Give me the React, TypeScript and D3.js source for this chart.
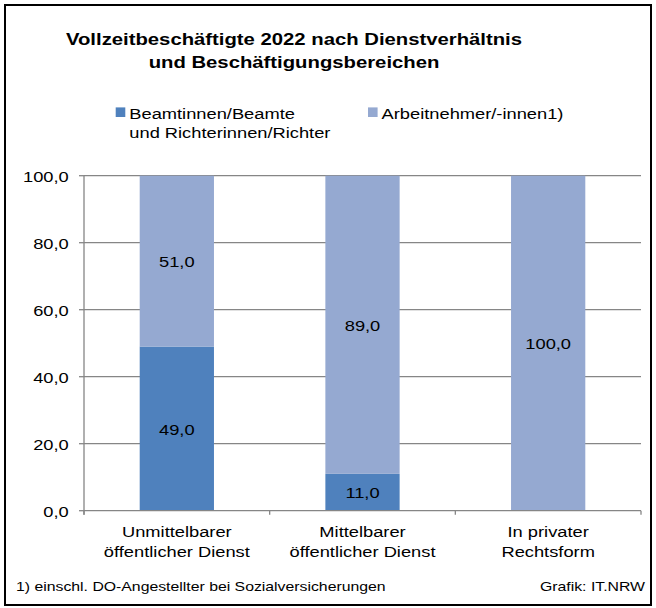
import React from 'react';
import * as d3 from 'd3';

// chart data
const categories = [
  ['Unmittelbarer', 'öffentlicher Dienst'],
  ['Mittelbarer', 'öffentlicher Dienst'],
  ['In privater', 'Rechtsform'],
];
const beamte = [49.0, 11.0, 0.0];
const arbeitnehmer = [51.0, 89.0, 100.0];
const yTicks = [0, 20, 40, 60, 80, 100];
const seriesNames = [['Beamtinnen/Beamte', 'und Richterinnen/Richter'], ['Arbeitnehmer/-innen1)']];
const titleLines = ['Vollzeitbeschäftigte 2022 nach Dienstverhältnis', 'und Beschäftigungsbereichen'];
const footnote = '1) einschl. DO-Angestellter bei Sozialversicherungen';
const source = 'Grafik: IT.NRW';

const W = 656;
const H = 608;
const SX = 1.18; // text in the reference is stretched horizontally
const FONT = 'Liberation Sans, Arial, sans-serif';
const colors = ['#4F81BD', '#95A9D1'];
const gridColor = '#868686';

const fmt = (v: number) => v.toFixed(1).replace('.', ',');

function T({ x, y, size = 15.5, anchor = 'middle', bold = false, children }: any) {
  return (
    <text
      transform={`translate(${x},${y}) scale(${SX},1)`}
      textAnchor={anchor}
      fontSize={size}
      fontWeight={bold ? 'bold' : 'normal'}
      fontFamily={FONT}
      fill="#000"
    >
      {children}
    </text>
  );
}

export default function App() {
  const plot = { left: 84, right: 641, top: 175.7, bottom: 510.7 };

  const x = d3
    .scaleBand<number>()
    .domain(categories.map((_, i) => i))
    .range([plot.left, plot.right])
    .paddingInner(0.6)
    .paddingOuter(0.3);
  const y = d3.scaleLinear().domain([0, 100]).range([plot.bottom, plot.top]);

  const rows = categories.map((_, i) => ({ i, beamte: beamte[i], arbeitnehmer: arbeitnehmer[i] }));
  const stack = d3.stack<any>().keys(['beamte', 'arbeitnehmer'])(rows);

  const step = (plot.right - plot.left) / categories.length;
  const bounds = d3.range(categories.length + 1).map(k => plot.left + k * step);

  return (
    <svg width={W} height={H} style={{ position: 'absolute', left: 0, top: 0, background: '#fff' }}>
      <rect x={5} y={5} width={646} height={600} fill="#fff" stroke="#000" strokeWidth={2} />

      {titleLines.map((t, i) => (
        <T key={i} x={294} y={44.5 + i * 23} size={17.2} bold>
          {t}
        </T>
      ))}

      {/* legend */}
      <rect x={115.7} y={107.4} width={9.6} height={9.6} fill={colors[0]} />
      {seriesNames[0].map((t, i) => (
        <T key={i} x={129.3} y={119.3 + i * 18.4} anchor="start">
          {t}
        </T>
      ))}
      <rect x={368} y={107.4} width={9.6} height={9.6} fill={colors[1]} />
      <T x={381.6} y={119.3} anchor="start">
        {seriesNames[1][0]}
      </T>

      {/* grid */}
      {yTicks.filter(v => v > 0).map(v => (
        <line key={v} x1={plot.left} x2={plot.right} y1={y(v)} y2={y(v)} stroke={gridColor} strokeWidth={1.3} />
      ))}

      {/* bars */}
      {stack.map((s, si) =>
        s.map((d, i) =>
          d[1] - d[0] > 0 ? (
            <rect
              key={`${si}-${i}`}
              x={x(i)}
              y={y(d[1])}
              width={x.bandwidth()}
              height={y(d[0]) - y(d[1])}
              fill={colors[si]}
            />
          ) : null
        )
      )}

      {/* value labels */}
      {stack.map((s, si) =>
        s.map((d, i) =>
          d[1] - d[0] > 0 ? (
            <T key={`l${si}-${i}`} x={x(i)! + x.bandwidth() / 2} y={y((d[0] + d[1]) / 2) + 6}>
              {fmt(d[1] - d[0])}
            </T>
          ) : null
        )
      )}

      {/* y axis */}
      <line x1={plot.left} x2={plot.left} y1={plot.top} y2={plot.bottom + 4} stroke={gridColor} strokeWidth={1.3} />
      {yTicks.map(v => (
        <g key={v}>
          <line x1={plot.left - 5} x2={plot.left} y1={y(v)} y2={y(v)} stroke={gridColor} strokeWidth={1.3} />
          <T x={68.7} y={y(v) + 6} anchor="end">
            {fmt(v)}
          </T>
        </g>
      ))}

      {/* x axis */}
      <line x1={plot.left} x2={plot.right} y1={plot.bottom} y2={plot.bottom} stroke={gridColor} strokeWidth={1.3} />
      {bounds.map((bx, k) => (
        <line key={k} x1={bx} x2={bx} y1={plot.bottom} y2={plot.bottom + 4} stroke={gridColor} strokeWidth={1.3} />
      ))}
      {categories.map((c, i) =>
        c.map((t, j) => (
          <T key={`${i}-${j}`} x={x(i)! + x.bandwidth() / 2} y={537 + j * 20}>
            {t}
          </T>
        ))
      )}

      <T x={16} y={591} size={13.4} anchor="start">
        {footnote}
      </T>
      <T x={645} y={591} size={13.4} anchor="end">
        {source}
      </T>
    </svg>
  );
}
